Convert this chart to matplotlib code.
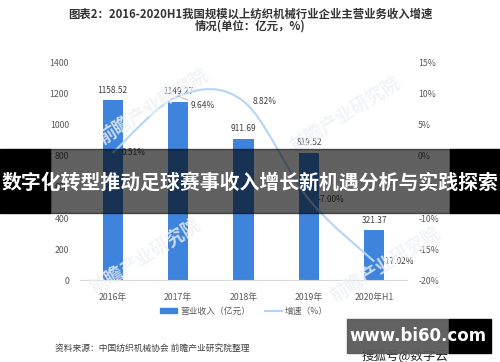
import matplotlib
matplotlib.use("Agg")
import matplotlib.pyplot as plt
from matplotlib.path import Path
from matplotlib.patches import PathPatch, Rectangle
from matplotlib.lines import Line2D

plt.rcParams["font.family"] = ["Noto Sans CJK SC", "DejaVu Sans"]

# data
years = ["2016年", "2017年", "2018年", "2019年", "2020年H1"]
revenue = [1158.52, 1149.27, 911.69, 819.52, 321.37]
growth = [0.51, 9.64, 8.82, -7.00, -17.02]
growth_labels = ["0.51%", "9.64%", "8.82%", "-7.00%", "-17.02%"]

bar_color = "#3f84dc"
line_color = "#b5d5f8"
text_gray = "#595959"

fig = plt.figure(figsize=(5, 3.62), dpi=100)
ax = fig.add_axes([0.16, 0.2265, 0.654, 0.5995])
ax2 = ax.twinx()

x = list(range(len(years)))
ax.bar(x, revenue, width=0.31, color=bar_color, zorder=2)
ax.set_xlim(-0.5, len(years) - 0.5)
ax.set_ylim(0, 1400)
ax.set_yticks(range(0, 1401, 200))
ax.set_xticks(x)
ax.set_xticklabels(years)
ax2.set_ylim(-20, 15)
ax2.set_yticks(range(-20, 16, 5))
ax2.set_yticklabels([f"{v}%" for v in range(-20, 16, 5)])

for a in (ax, ax2):
    for s in a.spines.values():
        s.set_visible(False)
    a.tick_params(length=0, labelsize=6.3, labelcolor=text_gray)
ax.spines["bottom"].set_visible(True)
ax.spines["bottom"].set_color("#d9d9d9")
ax.tick_params(axis="x", pad=9, labelsize=6.3)
ax.tick_params(axis="y", pad=8)
ax2.tick_params(axis="y", pad=8)

# smooth line through the growth points (Catmull-Rom as Bezier)
pts = list(zip(x, growth))
verts = [pts[0]]
codes = [Path.MOVETO]
for i in range(len(pts) - 1):
    p0 = pts[i - 1] if i > 0 else pts[i]
    p1 = pts[i]
    p2 = pts[i + 1]
    p3 = pts[i + 2] if i + 2 < len(pts) else pts[i + 1]
    c1 = (p1[0] + (p2[0] - p0[0]) / 6, p1[1] + (p2[1] - p0[1]) / 6)
    c2 = (p2[0] - (p3[0] - p1[0]) / 6, p2[1] - (p3[1] - p1[1]) / 6)
    verts += [c1, c2, p2]
    codes += [Path.CURVE4] * 3
ax2.add_patch(PathPatch(Path(verts, codes), fill=False, edgecolor=line_color, lw=1.5, zorder=3))

for i, v in enumerate(revenue):
    ax.annotate(f"{v:.2f}", (i, v), xytext=(0, 4), textcoords="offset points",
                ha="center", va="bottom", fontsize=6, color="#404040")

offsets = [(6.5, 0), (9, -7), (6.5, 0), (6.5, 0), (6, 0)]
for i, (g, lab) in enumerate(zip(growth, growth_labels)):
    arrow = None
    if i == 1:
        arrow = dict(arrowstyle="-", color="#a6a6a6", lw=0.6, shrinkA=0, shrinkB=0)
    ax2.annotate(lab, (i, g), xytext=offsets[i], textcoords="offset points",
                 ha="left", va="center", fontsize=6, color="#404040", arrowprops=arrow)

# faint watermarks
for cx, cy in [(153, 107), (345, 115), (145, 257), (385, 265)]:
    fig.text(cx / 500, 1 - cy / 362, "前瞻产业研究院", rotation=32, ha="center", va="center",
             fontsize=13, color="#eef1f5", alpha=0.8, fontweight="bold", zorder=1)

# title
fig.text(0.5, 1 - 14 / 362, "图表2：2016-2020H1我国规模以上纺织机械行业企业主营业务收入增速",
         ha="center", va="center", fontsize=8.2, fontweight="bold", color="#333333")
fig.text(0.5, 1 - 26 / 362, "情况(单位：亿元，%)", ha="center", va="center",
         fontsize=8.2, fontweight="bold", color="#333333")

# legend
handles = [Rectangle((0, 0), 1, 1, color=bar_color), Line2D([0], [0], color=line_color, lw=1.5)]
fig.legend(handles, ["营业收入（亿元）", "增速（%）"], loc="center", bbox_to_anchor=(0.488, 1 - 311 / 362),
           ncol=2, frameon=False, fontsize=6.3, labelcolor=text_gray, handlelength=2.0,
           handleheight=0.6, handletextpad=0.3, columnspacing=1.7)

fig.text(55 / 500, 1 - 348 / 362, "资料来源：中国纺织机械协会 前瞻产业研究院整理",
         ha="left", va="center", fontsize=6.3, color="#404040")

# banner overlay
by0, by1 = 1 - 213 / 362, 1 - 149 / 362
fig.add_artist(Rectangle((0, by0), 0.1, by1 - by0, transform=fig.transFigure, color="black", zorder=10))
fig.add_artist(Rectangle((0.9, by0), 0.1, by1 - by0, transform=fig.transFigure, color="black", zorder=10))
fig.add_artist(Rectangle((0.1, by0), 0.8, by1 - by0, transform=fig.transFigure, color="black",
                         alpha=0.62, zorder=10))
fig.text(0.5, 1 - 182 / 362, "数字化转型推动足球赛事收入增长新机遇分析与实践探索", ha="center",
         va="center", fontsize=14.3, fontweight="bold", color="white", zorder=11)

# site mark bottom right
fig.text(362 / 500, 1 - 355 / 362, "搜狐号@数字云", ha="left", va="center", fontsize=9,
         color="#222222", zorder=9)
fig.add_artist(Rectangle((347 / 500, 1 - 353 / 362), 102 / 500, 34 / 362, transform=fig.transFigure,
                         color="#5a5a5a", alpha=0.95, zorder=10))
fig.add_artist(Rectangle((449 / 500, 1 - 353 / 362), 42 / 500, 34 / 362, transform=fig.transFigure,
                         color="black", zorder=10))
fig.text(418 / 500, 1 - 336 / 362, "www.bi60.com", ha="center", va="center", fontsize=12,
         fontweight="bold", color="white", family="DejaVu Sans", zorder=11)

fig.savefig("out.png", dpi=100)
